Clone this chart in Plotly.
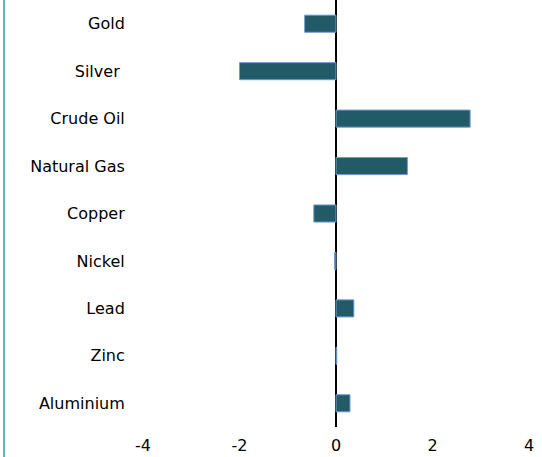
import plotly.graph_objects as go

categories = ["Gold", "Silver\u00a0", "Crude Oil", "Natural Gas", "Copper", "Nickel", "Lead", "Zinc", "Aluminium"]
values = [-0.65, -2.0, 2.78, 1.48, -0.46, -0.03, 0.37, 0.015, 0.29]
x_ticks = [-4, -2, 0, 2, 4]

fig = go.Figure(go.Bar(
    y=categories, x=values, orientation="h",
    width=0.36,
    marker=dict(color="#235a68", line=dict(color="#6f9bd1", width=1)),
    hoverinfo="skip",
))

fig.update_layout(
    width=542, height=457,
    margin=dict(l=143, r=13, t=0, b=30),
    paper_bgcolor="white", plot_bgcolor="white",
    font=dict(family="DejaVu Sans", size=17, color="black"),
    showlegend=False,
    bargap=0.5,
)
fig.update_xaxes(
    range=[-4, 4], tickvals=x_ticks, ticktext=[str(v) for v in x_ticks],
    showgrid=False, showline=False, zeroline=True, zerolinecolor="black", zerolinewidth=1.5,
    ticks="outside", ticklen=4, tickcolor="rgba(0,0,0,0)", tickfont=dict(size=16),
)
fig.update_yaxes(
    categoryorder="array", categoryarray=categories, autorange="reversed",
    showgrid=False, showline=False, zeroline=False,
    ticks="outside", ticklen=14, tickcolor="rgba(0,0,0,0)", tickfont=dict(size=16),
)
fig.add_shape(type="line", xref="paper", yref="paper",
              x0=(4 - 143) / 386, x1=(4 - 143) / 386, y0=-30 / 427, y1=1,
              line=dict(color="#2b9c9c", width=1.5))

fig.write_html("out.html", config={"displayModeBar": False},
               post_script="document.body.style.margin='0';document.body.style.padding='0';")
